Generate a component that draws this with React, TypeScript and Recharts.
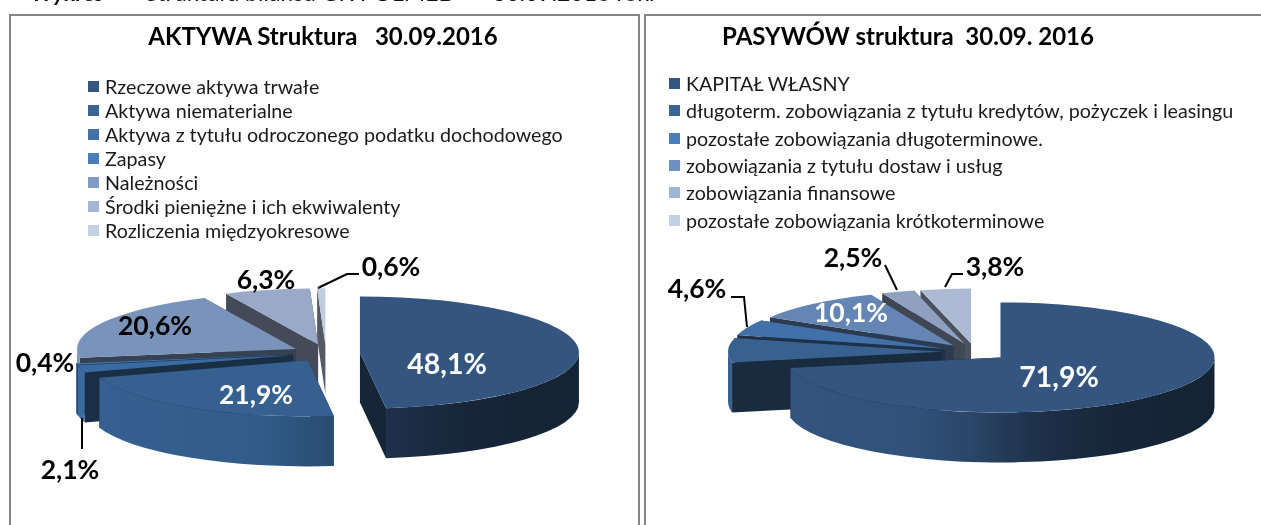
import { Pie, PieChart } from "recharts";

const LEFT_TITLE = "AKTYWA Struktura   30.09.2016";
const LEFT_CATEGORIES = [
  "Rzeczowe aktywa trwałe",
  "Aktywa niematerialne",
  "Aktywa z tytułu odroczonego podatku dochodowego",
  "Zapasy",
  "Należności",
  "Środki pieniężne i ich ekwiwalenty",
  "Rozliczenia międzyokresowe",
];
const LEFT_VALUES = [48.1, 21.9, 2.1, 0.4, 20.6, 6.3, 0.6];
const LEFT_COLORS = ["#33557f", "#35608f", "#3a6a9f", "#4274ad", "#7a93bb", "#9aa9c7", "#c0cce0"];
const LEFT_LEGEND_COLORS = ["#335781", "#3c6596", "#4372a8", "#4a7ebb", "#7f9bc4", "#a5b6d4", "#c3cfe3"];

const RIGHT_TITLE = "PASYWÓW struktura  30.09. 2016";
const RIGHT_CATEGORIES = [
  "KAPITAŁ WŁASNY",
  "długoterm. zobowiązania z tytułu kredytów, pożyczek i leasingu",
  "pozostałe zobowiązania długoterminowe.",
  "zobowiązania z tytułu dostaw i usług",
  "zobowiązania finansowe",
  "pozostałe zobowiązania krótkoterminowe",
];
const RIGHT_VALUES = [71.9, 7.1, 4.6, 10.1, 2.5, 3.8];
const RIGHT_COLORS = ["#33557f", "#38618f", "#4171a8", "#6585b5", "#8fa0c0", "#adbad4"];
const RIGHT_LEGEND_COLORS = ["#335781", "#3c6596", "#4a7ebb", "#7090c0", "#a0b4d4", "#c3cfe3"];

// label placement, index follows the categories
type LabelSpot = { x: number; y: number; fill: string; size?: number; line?: number[][]; hide?: boolean };
const LEFT_SPOTS: LabelSpot[] = [
  { x: 447, y: 363, fill: "#fff", size: 28.5 },
  { x: 256, y: 394, fill: "#fff" },
  { x: 70, y: 469, fill: "#000", line: [[82, 418], [82, 449]] },
  { x: 45, y: 362, fill: "#000" },
  { x: 155, y: 325, fill: "#000" },
  { x: 266, y: 279, fill: "#000" },
  { x: 391, y: 266, fill: "#000", line: [[318, 288], [347, 274], [359, 274]] },
];
const RIGHT_SPOTS: LabelSpot[] = [
  { x: 419, y: 376, fill: "#fff", size: 28.5 },
  { x: 0, y: 0, fill: "#000", hide: true },
  { x: 57, y: 288, fill: "#000", line: [[91, 297], [104, 297], [107, 327]] },
  { x: 211, y: 312, fill: "#fff" },
  { x: 213, y: 257, fill: "#000", line: [[245, 265], [257, 290]] },
  { x: 355, y: 266, fill: "#000", line: [[323, 274], [312, 274], [305, 287]] },
];

const DEPTH = 50;
const FONT = "Lato, Carlito, Calibri, sans-serif";

function shade(hex: string, f: number) {
  const n = parseInt(hex.slice(1), 16);
  const c = [(n >> 16) & 255, (n >> 8) & 255, n & 255].map((v) => Math.round(v * f));
  return `rgb(${c[0]},${c[1]},${c[2]})`;
}

const rad = (a: number) => (a * Math.PI) / 180;

// sector drawn as an exploded, tilted slab instead of a flat slice
function Slab(props: any) {
  const { cx, cy, outerRadius, startAngle, endAngle, midAngle, payload, explode, squash, uid } = props;
  const fill = payload.color;
  const ry = outerRadius * squash;
  const ex = cx + explode * Math.cos(rad(midAngle));
  const ey = cy - explode * squash * Math.sin(rad(midAngle));
  const pt = (a: number, drop = 0) => [ex + outerRadius * Math.cos(rad(a)), ey - ry * Math.sin(rad(a)) + drop];
  const a0 = Math.min(startAngle, endAngle);
  const a1 = Math.max(startAngle, endAngle);
  const arc = (from: number, to: number, drop = 0) => {
    // clockwise on screen means falling angle
    const [x, y] = pt(to, drop);
    const large = Math.abs(to - from) > 180 ? 1 : 0;
    const sweep = to < from ? 1 : 0;
    return `A${outerRadius} ${ry} 0 ${large} ${sweep} ${x} ${y}`;
  };
  const [sx, sy] = pt(a1);
  const top = `M${ex} ${ey}L${sx} ${sy}${arc(a1, a0)}Z`;

  // front half of the rim only, angles run -270..90 here
  const walls: string[] = [];
  for (const [from, to] of [[-180, 0], [180, 360], [-540, -360]]) {
    const lo = Math.max(a0, from);
    const hi = Math.min(a1, to);
    if (hi > lo) {
      const [x0, y0] = pt(hi);
      const [x1, y1] = pt(lo, DEPTH);
      walls.push(`M${x0} ${y0}${arc(hi, lo)}L${x1} ${y1}${arc(lo, hi, DEPTH)}Z`);
    }
  }
  const cut = (a: number) => {
    const [x, y] = pt(a);
    return `M${ex} ${ey}L${x} ${y}L${x} ${y + DEPTH}L${ex} ${ey + DEPTH}Z`;
  };
  const id = `rim-${uid}-${Math.round(a0)}`;
  return (
    <g>
      <defs>
        <linearGradient
          id={id}
          gradientUnits="userSpaceOnUse"
          x1={cx - outerRadius}
          x2={cx + outerRadius}
          y1={0}
          y2={0}
        >
          <stop offset="0" stopColor={shade(fill, 1)} />
          <stop offset="0.36" stopColor={shade(fill, 0.95)} />
          <stop offset="0.49" stopColor={shade(fill, 0.82)} />
          <stop offset="0.64" stopColor={shade(fill, 0.58)} />
          <stop offset="0.83" stopColor={shade(fill, 0.44)} />
          <stop offset="1" stopColor={shade(fill, 0.42)} />
        </linearGradient>
      </defs>
      <path d={cut(a0)} fill={shade(fill, 0.44)} />
      <path d={cut(a1)} fill={shade(fill, 0.44)} />
      {walls.map((d, i) => (
        <path key={i} d={d} fill={`url(#${id})`} />
      ))}
      <path d={top} fill={fill} />
    </g>
  );
}

function StructurePie({
  uid,
  left,
  width,
  title,
  titleX,
  categories,
  values,
  colors,
  legendColors,
  spots,
  cx,
  cy,
  radius,
  squash,
  explode,
  legendX,
  legendTop,
  rowHeight,
}: any) {
  // reversed with the angle running the other way: same layout, but the
  // slices are painted back to front
  const rows = categories
    .map((name: string, i: number) => ({ name, value: values[i], color: colors[i], spot: spots[i] }))
    .reverse();
  const shape = (p: any) => <Slab {...p} explode={explode} squash={squash} uid={uid} />;
  const renderLabel = (p: any) => {
    const s: LabelSpot = p.payload?.spot ?? p.spot;
    if (!s || s.hide) return <g />;
    return (
      <g>
        {s.line && (
          <polyline points={s.line.map((q) => q.join(",")).join(" ")} fill="none" stroke="#000" strokeWidth={2} />
        )}
        <text
          x={s.x}
          y={s.y}
          textAnchor="middle"
          dominantBaseline="central"
          fill={s.fill}
          fontFamily={FONT}
          fontWeight={700}
          fontSize={s.size ?? 26.5}
        >
          {p.value.toFixed(1).replace(".", ",")}%
        </text>
      </g>
    );
  };
  return (
    <div style={{ position: "absolute", left, top: 0 }}>
      <div style={{ position: "absolute", left: legendX, top: legendTop, fontFamily: FONT, fontSize: 19.7, color: "#1a1a1a" }}>
        {categories.map((name: string, i: number) => (
          <div key={name} style={{ display: "flex", alignItems: "center", height: rowHeight, whiteSpace: "nowrap" }}>
            <span style={{ width: 11, height: 11, background: legendColors[i], marginRight: 6, flex: "none" }} />
            {name}
          </div>
        ))}
      </div>
      <PieChart width={width} height={525} margin={{ top: 0, right: 0, bottom: 0, left: 0 }}>
        <text x={titleX} y={35} textAnchor="middle" dominantBaseline="central" fontFamily={FONT} fontWeight={700} fontSize={24} fill="#000" style={{ whiteSpace: "pre" }}>
          {title}
        </text>
        <Pie
          data={rows}
          dataKey="value"
          nameKey="name"
          cx={cx}
          cy={cy}
          innerRadius={0}
          outerRadius={radius}
          startAngle={-270}
          endAngle={90}
          stroke="none"
          isAnimationActive={false}
          shape={shape}
          activeShape={shape}
          inactiveShape={shape}
          label={renderLabel}
          labelLine={false}
        />
      </PieChart>
    </div>
  );
}

export default function App() {
  return (
    <div
      style={{
        position: "absolute",
        left: 0,
        top: 0,
        width: 1261,
        height: 525,
        overflow: "hidden",
        background: "#fff",
        filter: "blur(0.4px)",
      }}
    >
      <div
        style={{
          position: "absolute",
          left: 31,
          top: -22,
          fontFamily: FONT,
          fontSize: 23,
          whiteSpace: "pre",
          color: "#111",
        }}
      >
        <b>
          <i>Wykres</i>
        </b>
        {"       Struktura bilansu GK POLMED  –  30.09.2016 rok."}
      </div>
      <div style={{ position: "absolute", left: 9, top: 14, width: 627, height: 530, border: "2px solid #868686" }} />
      <div style={{ position: "absolute", left: 644, top: 14, width: 630, height: 530, border: "2px solid #868686" }} />
      <StructurePie
        uid="a"
        left={0}
        width={640}
        title={LEFT_TITLE}
        titleX={323}
        categories={LEFT_CATEGORIES}
        values={LEFT_VALUES}
        colors={LEFT_COLORS}
        legendColors={LEFT_LEGEND_COLORS}
        spots={LEFT_SPOTS}
        cx={326}
        cy={353}
        radius={219}
        squash={0.256}
        explode={34}
        legendX={88}
        legendTop={74}
        rowHeight={24.1}
      />
      <StructurePie
        uid="b"
        left={640}
        width={621}
        title={RIGHT_TITLE}
        titleX={268}
        categories={RIGHT_CATEGORIES}
        values={RIGHT_VALUES}
        colors={RIGHT_COLORS}
        legendColors={RIGHT_LEGEND_COLORS}
        spots={RIGHT_SPOTS}
        cx={335}
        cy={352}
        radius={214}
        squash={0.257}
        explode={33}
        legendX={29}
        legendTop={70}
        rowHeight={27.3}
      />
    </div>
  );
}
